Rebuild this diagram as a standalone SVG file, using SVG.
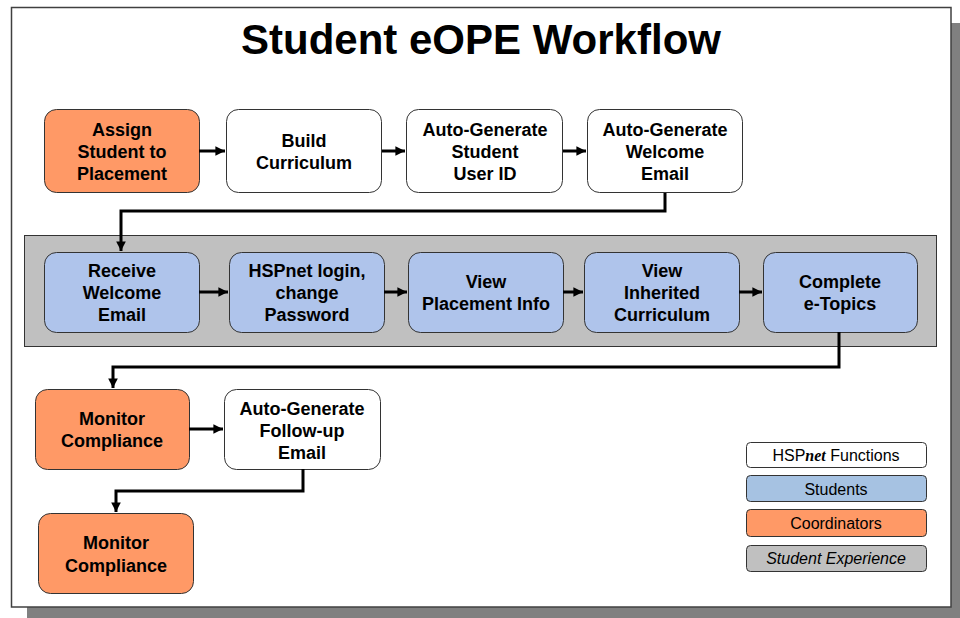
<svg xmlns="http://www.w3.org/2000/svg" width="960" height="618" viewBox="0 0 960 618">
<defs>
<marker id="ah" viewBox="0 0 10 10" refX="10" refY="5" markerWidth="3.2" markerHeight="3.2" orient="auto" markerUnits="strokeWidth">
<path d="M0,0 L10,5 L0,10 z" fill="#000"/>
</marker>
<style>
.n{stroke:#333;stroke-width:1}
.w{fill:#fff}
.o{fill:#FF9966}
.b{fill:#AFC4EB}
.t{font-family:"Liberation Sans",Arial,sans-serif;font-weight:bold;font-size:18px;text-anchor:middle;fill:#000}
.l{font-family:"Liberation Sans",Arial,sans-serif;font-size:16px;text-anchor:middle;fill:#000}
.c{fill:none;stroke:#000;stroke-width:3;marker-end:url(#ah)}
</style>
</defs>
<rect x="0" y="0" width="960" height="618" fill="#fff"/>
<rect x="27" y="23" width="940" height="600" fill="#808080"/>
<rect x="11.5" y="7.5" width="939.5" height="599.5" fill="#fff" stroke="#404040" stroke-width="1.5"/>
<text x="481" y="54" font-family="Liberation Sans,Arial,sans-serif" font-weight="bold" font-size="42" text-anchor="middle">Student eOPE Workflow</text>
<rect id="band" x="24.5" y="235.5" width="912" height="111" fill="#C0C0C0" stroke="#333" stroke-width="1"/>

<g id="assign"><rect class="n o" x="44.5" y="109.5" width="155" height="83" rx="12"/><text class="t" x="122" y="136">Assign</text><text class="t" x="122" y="158">Student to</text><text class="t" x="122" y="180">Placement</text></g>
<g id="build"><rect class="n w" x="226.5" y="109.5" width="155" height="83" rx="12"/><text class="t" x="304" y="147">Build</text><text class="t" x="304" y="169">Curriculum</text></g>
<g id="userid"><rect class="n w" x="406.5" y="109.5" width="156" height="83" rx="12"/><text class="t" x="485" y="136">Auto-Generate</text><text class="t" x="485" y="158">Student</text><text class="t" x="485" y="180">User ID</text></g>
<g id="welcome"><rect class="n w" x="587.5" y="109.5" width="155" height="83" rx="12"/><text class="t" x="665" y="136">Auto-Generate</text><text class="t" x="665" y="158">Welcome</text><text class="t" x="665" y="180">Email</text></g>

<g id="receive"><rect class="n b" x="44.5" y="252.5" width="155" height="80" rx="12"/><text class="t" x="122" y="277">Receive</text><text class="t" x="122" y="299">Welcome</text><text class="t" x="122" y="321">Email</text></g>
<g id="login"><rect class="n b" x="229.5" y="252.5" width="155" height="80" rx="12"/><text class="t" x="307" y="277">HSPnet login,</text><text class="t" x="307" y="299">change</text><text class="t" x="307" y="321">Password</text></g>
<g id="placement"><rect class="n b" x="408.5" y="252.5" width="155" height="80" rx="12"/><text class="t" x="486" y="288">View</text><text class="t" x="486" y="310">Placement Info</text></g>
<g id="inherited"><rect class="n b" x="584.5" y="252.5" width="155" height="80" rx="12"/><text class="t" x="662" y="277">View</text><text class="t" x="662" y="299">Inherited</text><text class="t" x="662" y="321">Curriculum</text></g>
<g id="etopics"><rect class="n b" x="763.5" y="252.5" width="154" height="80" rx="12"/><text class="t" x="840" y="288">Complete</text><text class="t" x="840" y="310">e-Topics</text></g>

<g id="monitor1"><rect class="n o" x="35.5" y="389.5" width="154" height="80" rx="12"/><text class="t" x="112" y="425">Monitor</text><text class="t" x="112" y="447">Compliance</text></g>
<g id="followup"><rect class="n w" x="224.5" y="389.5" width="156" height="80" rx="12"/><text class="t" x="302" y="415">Auto-Generate</text><text class="t" x="302" y="437">Follow-up</text><text class="t" x="302" y="459">Email</text></g>
<g id="monitor2"><rect class="n o" x="38.5" y="513.5" width="155" height="80" rx="12"/><text class="t" x="116" y="549">Monitor</text><text class="t" x="116" y="572">Compliance</text></g>

<g id="connectors">
<path class="c" d="M199,151 H225"/>
<path class="c" d="M382,151 H405"/>
<path class="c" d="M563,151 H586"/>
<path class="c" d="M665,193 V211 H121 V251"/>
<path class="c" d="M199,292 H228"/>
<path class="c" d="M384,292 H407"/>
<path class="c" d="M563,292 H583"/>
<path class="c" d="M739,292 H762"/>
<path class="c" d="M839,332 V367 H113 V388"/>
<path class="c" d="M189,429 H223"/>
<path class="c" d="M303,469 V491 H116 V512"/>
</g>

<g id="legend-hspnet"><rect class="n" fill="#fff" x="746.5" y="442.5" width="180" height="25" rx="4"/><text class="l" x="836" y="461">HSP<tspan font-family="Liberation Serif,serif" font-style="italic" font-weight="bold">net</tspan> Functions</text></g>
<g id="legend-students"><rect class="n" fill="#A6C2E2" x="746.5" y="475.5" width="180" height="26" rx="4"/><text class="l" x="836" y="495">Students</text></g>
<g id="legend-coord"><rect class="n" fill="#FF9966" x="746.5" y="509.5" width="180" height="27" rx="4"/><text class="l" x="836" y="529">Coordinators</text></g>
<g id="legend-exp"><rect class="n" fill="#C0C0C0" x="746.5" y="545.5" width="180" height="26" rx="4"/><text class="l" x="836" y="564" font-style="italic">Student Experience</text></g>
</svg>
